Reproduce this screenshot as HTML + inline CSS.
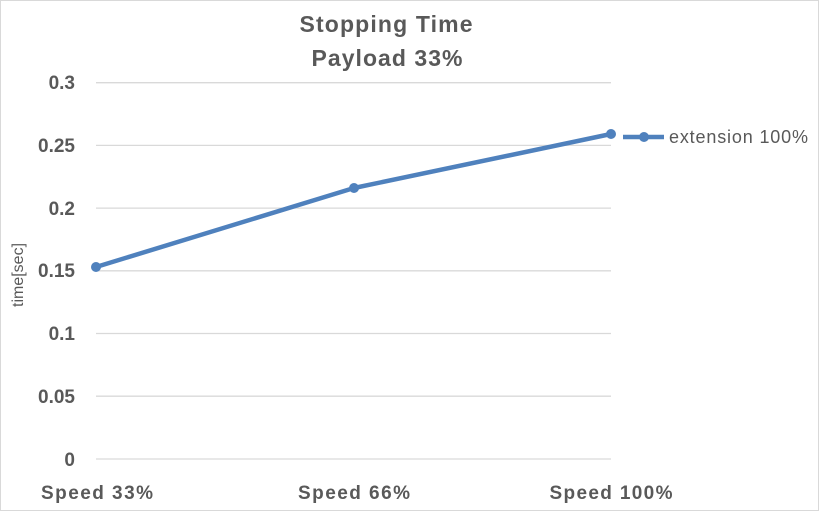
<!DOCTYPE html>
<html><head><style>body{margin:0;background:#fff}svg{display:block}</style></head><body>
<svg width="819" height="511" xmlns="http://www.w3.org/2000/svg" font-family="Liberation Sans, sans-serif">
<rect x="0.5" y="0.5" width="818" height="510" fill="#fff" stroke="#d9d9d9"/>
<text x="386" y="32" text-anchor="middle" font-size="23" font-weight="bold" fill="#595959" textLength="173">Stopping Time</text>
<text x="387" y="66" text-anchor="middle" font-size="23" font-weight="bold" fill="#595959" textLength="151">Payload 33%</text>
<g stroke="#d9d9d9" stroke-width="1.3">
<line x1="96" x2="611" y1="82.7" y2="82.7"/><line x1="96" x2="611" y1="145.4" y2="145.4"/>
<line x1="96" x2="611" y1="208.1" y2="208.1"/><line x1="96" x2="611" y1="270.8" y2="270.8"/>
<line x1="96" x2="611" y1="333.5" y2="333.5"/><line x1="96" x2="611" y1="396.2" y2="396.2"/>
<line x1="96" x2="611" y1="459" y2="459"/></g>
<g font-size="19" font-weight="bold" fill="#595959" text-anchor="end">
<text x="75" y="89">0.3</text><text x="75" y="152">0.25</text><text x="75" y="215">0.2</text>
<text x="75" y="277">0.15</text><text x="75" y="340">0.1</text><text x="75" y="403">0.05</text><text x="75" y="466">0</text></g>
<g font-size="19" font-weight="bold" fill="#595959" text-anchor="middle">
<text x="97" y="499" textLength="112">Speed 33%</text><text x="354" y="499" textLength="112">Speed 66%</text><text x="611" y="499" textLength="123">Speed 100%</text></g>
<text transform="translate(23,275) rotate(-90)" text-anchor="middle" font-size="16" fill="#595959">time[sec]</text>
<polyline points="96,267 354,188 611,134" fill="none" stroke="#4f81bd" stroke-width="4.5" stroke-linejoin="round"/>
<g fill="#4f81bd"><circle cx="96" cy="267" r="5"/><circle cx="354" cy="188" r="5"/><circle cx="611" cy="134" r="5"/>
<line x1="623" x2="664" y1="137" y2="137" stroke="#4f81bd" stroke-width="4.5"/><circle cx="644" cy="137" r="5"/></g>
<text x="669" y="143" font-size="18" fill="#595959" textLength="139">extension 100%</text>
</svg>
</body></html>
